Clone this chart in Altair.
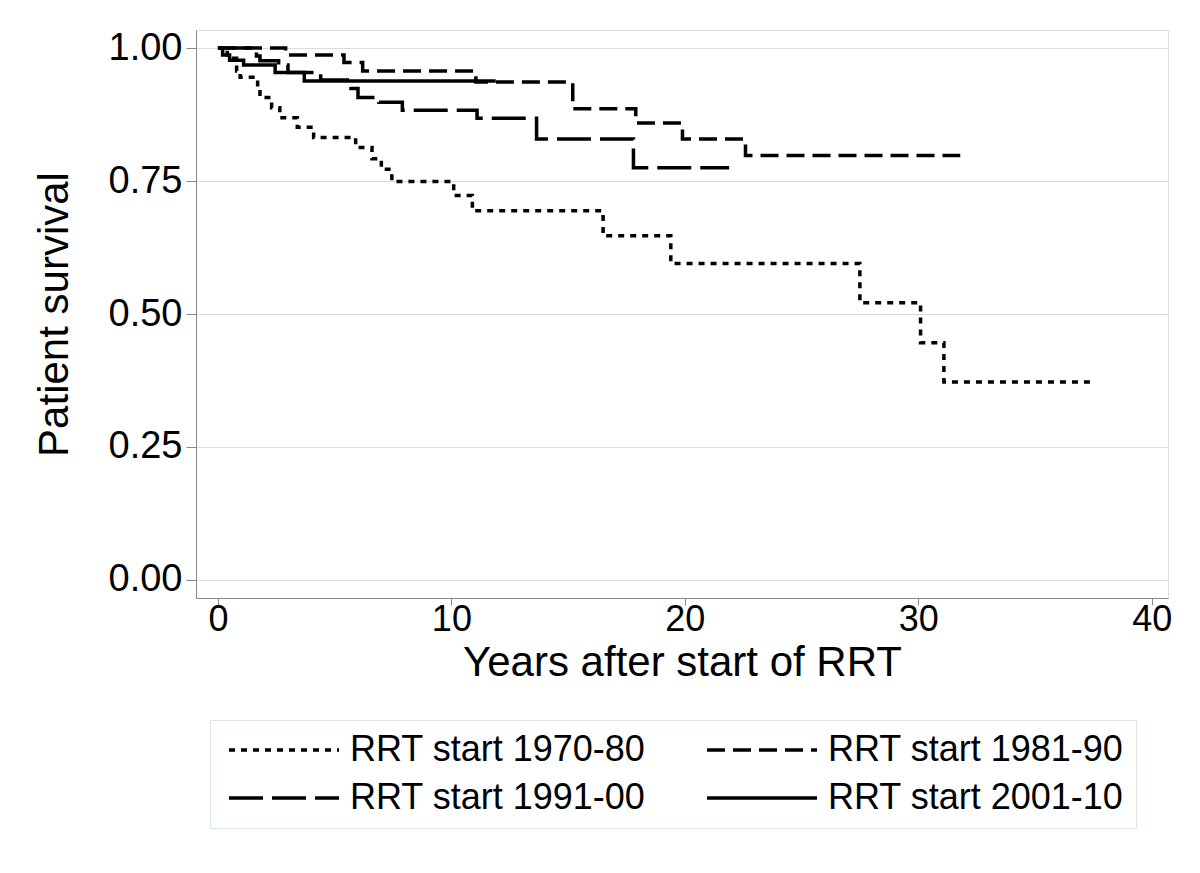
import altair as alt
import pandas as pd

groups = ["RRT start 1970-80", "RRT start 1981-90", "RRT start 1991-00", "RRT start 2001-10"]

t_7080 = [0, 0.4, 0.8, 0.95, 1.7, 1.8, 2.3, 2.65, 3.4, 4.1, 5.9, 6.6, 7.0, 7.45, 10.1, 10.9, 16.5, 19.4, 27.5, 30.1, 31.1, 37.6]
s_7080 = [1.0, 0.981, 0.957, 0.945, 0.926, 0.907, 0.888, 0.869, 0.851, 0.832, 0.813, 0.792, 0.772, 0.749, 0.723, 0.694, 0.647, 0.595, 0.521, 0.446, 0.372, 0.372]

t_8190 = [0, 2.9, 5.4, 6.2, 11.05, 15.2, 17.9, 19.9, 22.6, 31.8]
s_8190 = [1.0, 0.987, 0.973, 0.957, 0.936, 0.886, 0.859, 0.829, 0.798, 0.798]

t_9100 = [0, 1.65, 1.8, 2.6, 3.0, 4.4, 5.7, 6.0, 6.9, 7.9, 11.1, 13.65, 17.8, 21.9]
s_9100 = [1.0, 0.985, 0.976, 0.968, 0.954, 0.94, 0.924, 0.907, 0.898, 0.883, 0.868, 0.829, 0.775, 0.775]

t_0110 = [0, 0.2, 0.5, 1.1, 2.45, 3.7, 11.9]
s_0110 = [1.0, 0.987, 0.977, 0.968, 0.954, 0.938, 0.938]

x_ticks = [0, 10, 20, 30, 40]
y_ticks = [0.0, 0.25, 0.5, 0.75, 1.0]

rows = []
for g, ts, ss in zip(groups, [t_7080, t_8190, t_9100, t_0110], [s_7080, s_8190, s_9100, s_0110]):
    for i, (t, s) in enumerate(zip(ts, ss)):
        rows.append({"group": g, "years": t, "survival": s, "order": i})
df = pd.DataFrame(rows)

FONT = "Liberation Sans"
GRID = "#dae6ee"

chart = alt.Chart(df).mark_line(
    interpolate="step-after", strokeWidth=3.5, color="black", strokeCap="butt"
).encode(
    x=alt.X("years:Q",
            scale=alt.Scale(domain=[-0.94, 40.7], nice=False, zero=False),
            axis=alt.Axis(values=x_ticks, title="Years after start of RRT", grid=False,
                          labelFontSize=36, titleFontSize=42, titleFontWeight="normal",
                          tickSize=7, labelPadding=-3, titlePadding=5)),
    y=alt.Y("survival:Q",
            scale=alt.Scale(domain=[-0.034, 1.034], nice=False, zero=False),
            axis=alt.Axis(values=y_ticks, format=".2f", title="Patient survival", grid=True,
                          labelFontSize=38, titleFontSize=42, titleFontWeight="normal",
                          tickSize=10, labelPadding=4, titlePadding=32)),
    strokeDash=alt.StrokeDash("group:N",
                              scale=alt.Scale(domain=groups, range=[[6, 6], [18, 8], [34, 9], [1, 0]]),
                              legend=alt.Legend(title=None, orient="none", legendX=14, legendY=690,
                                                direction="horizontal", columns=2,
                                                symbolType="M-1,0H9", symbolSize=484,
                                                symbolStrokeWidth=3.5, symbolStrokeColor="black",
                                                symbolFillColor="transparent",
                                                labelFontSize=36, labelFont=FONT, labelColor="black",
                                                labelLimit=600, labelOffset=92, columnPadding=54,
                                                rowPadding=12, padding=12,
                                                strokeColor=GRID, fillColor="white")),
    order="order:Q",
).properties(
    width=972, height=568,
    autosize=alt.AutoSizeParams(type="none"),
    padding={"left": 188, "top": 22, "right": 16, "bottom": 260},
).configure_axis(
    labelFont=FONT, titleFont=FONT, labelColor="black", titleColor="black",
    domainColor="black", tickColor="black",
    domainWidth=2, tickWidth=2, gridColor=GRID, gridWidth=2,
).configure_view(stroke="transparent").configure(background="white")

chart.save("out.html", embed_options={"renderer": "svg", "actions": False})
